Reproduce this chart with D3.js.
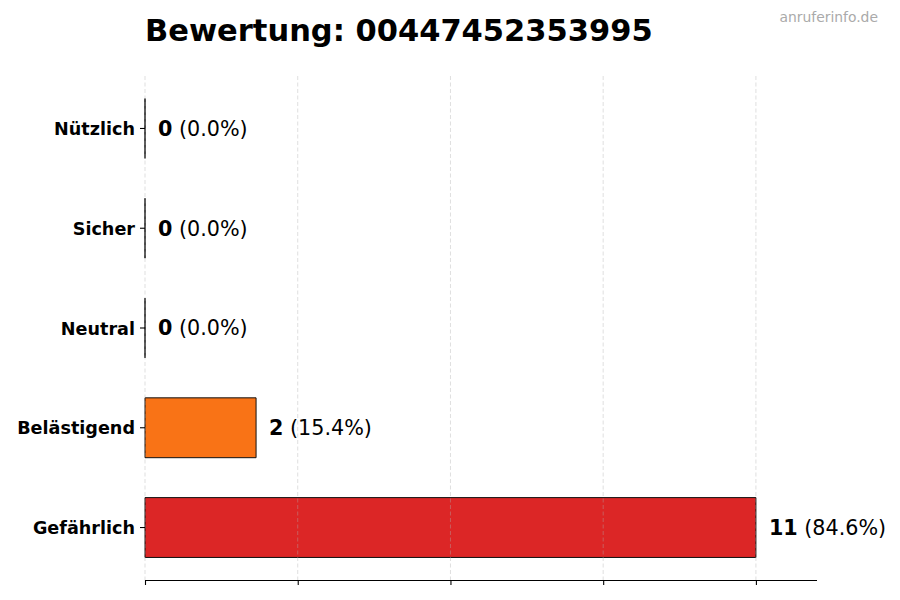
<!DOCTYPE html>
<html>
<head>
<meta charset="utf-8">
<script src="https://cdn.jsdelivr.net/npm/d3@7"></script>
<style>
  html, body { margin: 0; padding: 0; background: #fff; }
  svg { display: block; font-family: "DejaVu Sans", sans-serif; }
</style>
</head>
<body>
<svg id="chart" width="900" height="600"></svg>
<script>
const title = "Bewertung: 00447452353995";
const watermark = "anruferinfo.de";
const categories = ["Nützlich", "Sicher", "Neutral", "Belästigend", "Gefährlich"];
const counts = [0, 0, 0, 2, 11];
const percents = ["0.0%", "0.0%", "0.0%", "15.4%", "84.6%"];
const colors = ["#16a34a", "#22c55e", "#9ca3af", "#f97316", "#dc2626"];
const xTicks = [0, 2.75, 5.5, 8.25, 11];

(function () {
const svg = d3.select("#chart");
const mLeft = 145, mRight = 817, mTop = 76, mBottom = 580;

const x = d3.scaleLinear().domain([0, d3.max(counts) * 1.1]).range([mLeft, mRight]);
const y = d3.scaleBand().domain(categories).range([mTop, mBottom]).paddingInner(0.4).paddingOuter(0.226);

// bars (as paths so zero-width bars still show their edge)
svg.append("g").selectAll("path").data(categories).join("path")
  .attr("d", (d, i) => {
    const x0 = x(0), x1 = x(counts[i]), y0 = y(d), h = y.bandwidth();
    return `M${x0},${y0}H${x1}V${y0 + h}H${x0}Z`;
  })
  .attr("fill", (d, i) => colors[i])
  .attr("stroke", "#111")
  .attr("stroke-width", 1);

// grid (over bars)
svg.append("g").selectAll("line").data(xTicks).join("line")
  .attr("x1", d => x(d)).attr("x2", d => x(d))
  .attr("y1", mTop).attr("y2", mBottom)
  .attr("stroke", "#b0b0b0")
  .attr("stroke-opacity", 0.5)
  .attr("stroke-width", 0.8)
  .attr("stroke-dasharray", "4,2.5");

// x axis
const xAxis = d3.axisBottom(x).tickValues(xTicks).tickSize(5).tickFormat("");
const gx = svg.append("g").attr("transform", `translate(0,${mBottom})`).call(xAxis);
gx.select(".domain").attr("d", `M${mLeft},0.5H${mRight}`).attr("stroke", "#000").attr("stroke-width", 1.1);
gx.selectAll(".tick line").attr("stroke", "#000").attr("stroke-width", 1.1);

// y axis
const yAxis = d3.axisLeft(y).tickSize(5).tickPadding(5);
const gy = svg.append("g").attr("transform", `translate(${mLeft},0)`).call(yAxis);
gy.select(".domain").remove();
gy.selectAll(".tick line").attr("stroke", "#000").attr("stroke-width", 1.1);
gy.selectAll(".tick text")
  .attr("font-family", "DejaVu Sans, sans-serif")
  .attr("font-size", 17.6)
  .attr("font-weight", "bold")
  .attr("fill", "#000")
  .attr("dy", "0.38em");

// value labels
const labels = svg.append("g").selectAll("text").data(categories).join("text")
  .attr("x", (d, i) => x(counts[i]) + 13)
  .attr("y", d => y(d) + y.bandwidth() / 2)
  .attr("dy", "0.36em")
  .attr("font-size", 20.7)
  .attr("fill", "#000");
labels.append("tspan").attr("font-weight", "bold").text((d, i) => counts[i]);
labels.append("tspan").text((d, i) => " (" + percents[i] + ")");

// title
svg.append("text")
  .attr("x", mLeft).attr("y", 41)
  .attr("font-size", 30.5)
  .attr("font-weight", "bold")
  .attr("fill", "#000")
  .text(title);

// watermark
svg.append("text")
  .attr("x", 878).attr("y", 22)
  .attr("text-anchor", "end")
  .attr("font-size", 13.9)
  .attr("fill", "#aaaaaa")
  .text(watermark);
})();
</script>
</body>
</html>
